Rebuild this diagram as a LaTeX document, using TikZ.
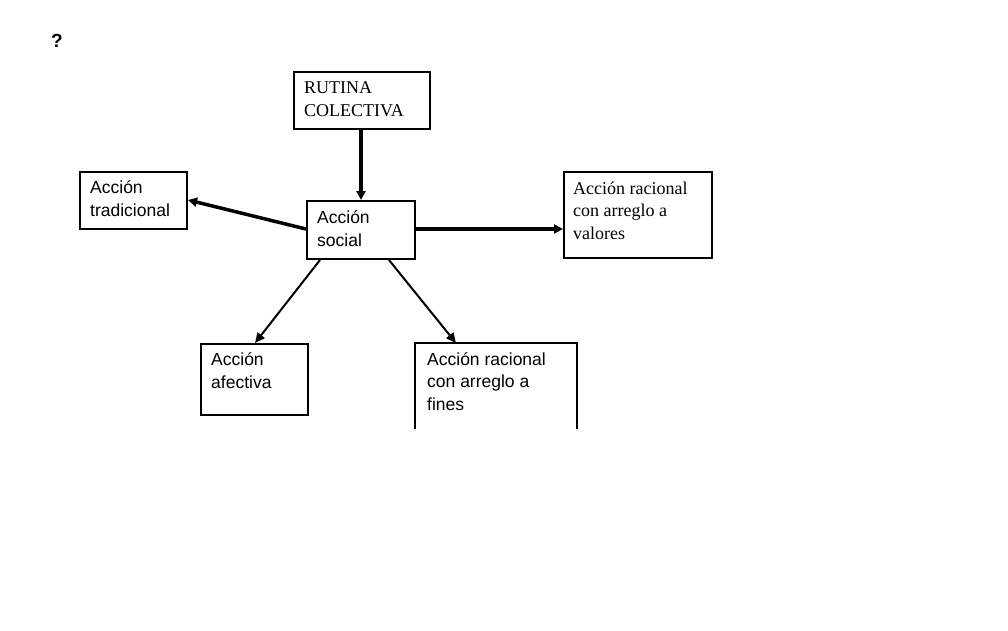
\documentclass[tikz,border=0pt]{standalone}
\usepackage{fontspec}
\setmainfont{Liberation Serif}
\newfontfamily\arialf{Liberation Sans}
\usetikzlibrary{arrows.meta}
\tikzset{
  box/.style={draw, line width=2pt, anchor=north west, inner sep=0pt},
  sanstxt/.style={anchor=base west, inner sep=0pt, align=left, font=\arialf\fontsize{17.5}{22.5}\selectfont},
  seriftxt/.style={anchor=base west, inner sep=0pt, align=left, font=\fontsize{18}{22.5}\selectfont},
  thickarrow/.style={line width=3.5pt, -{Triangle[length=9pt,width=9pt]}},
  thinarrow/.style={line width=2pt, -{Triangle[length=10pt,width=9pt]}}
}
\begin{document}
\begin{tikzpicture}[x=1pt,y=-1pt]
\useasboundingbox (0,0) rectangle (1008,630);
\fill[white] (0,0) rectangle (1008,630);
% question mark
\node[anchor=base west, inner sep=0pt, font=\arialf\bfseries\fontsize{19}{20}\selectfont] (q) at (51,47) {?};
% boxes
\node[box, minimum width=136pt, minimum height=57pt] (rut) at (293,71) {};
\node[box, minimum width=107pt, minimum height=57pt] (tra) at (79,171) {};
\node[box, minimum width=108pt, minimum height=58pt] (soc) at (306,200) {};
\node[box, minimum width=148pt, minimum height=86pt] (val) at (563,171) {};
\node[box, minimum width=107pt, minimum height=71pt] (afe) at (200,343) {};
\coordinate (finA) at (415,429);
\coordinate (finB) at (415,343);
\coordinate (finC) at (577,343);
\coordinate (finD) at (577,429);
\draw[line width=2pt] (finA) -- (finB) -- (finC) -- (finD);
% texts (anchored at the baseline of their last line)
\node[seriftxt] (trut) at (304,116) {RUTINA\\COLECTIVA};
\node[sanstxt] (ttra) at (90,216) {Acción\\tradicional};
\node[sanstxt] (tsoc) at (317,246) {Acción\\social};
\node[seriftxt] (tval) at (573,239) {Acción racional\\con arreglo a\\valores};
\node[sanstxt] (tafe) at (211,388) {Acción\\afectiva};
\node[sanstxt] (tfin) at (427,410) {Acción racional\\con arreglo a\\fines};
% connectors
\draw[thickarrow] (rut.south -| 361,0) -- (soc.north -| 361,0);
\draw[thickarrow] (soc.west |- 0,229) -- (tra.east |- 0,200);
\draw[thickarrow] (soc.east |- 0,229) -- (val.west |- 0,229);
\draw[thinarrow] (soc.south -| 320,0) -- (afe.north -| 255,0);
\draw[thinarrow] (soc.south -| 389,0) -- (finB -| 456,0);
\end{tikzpicture}
\end{document}
